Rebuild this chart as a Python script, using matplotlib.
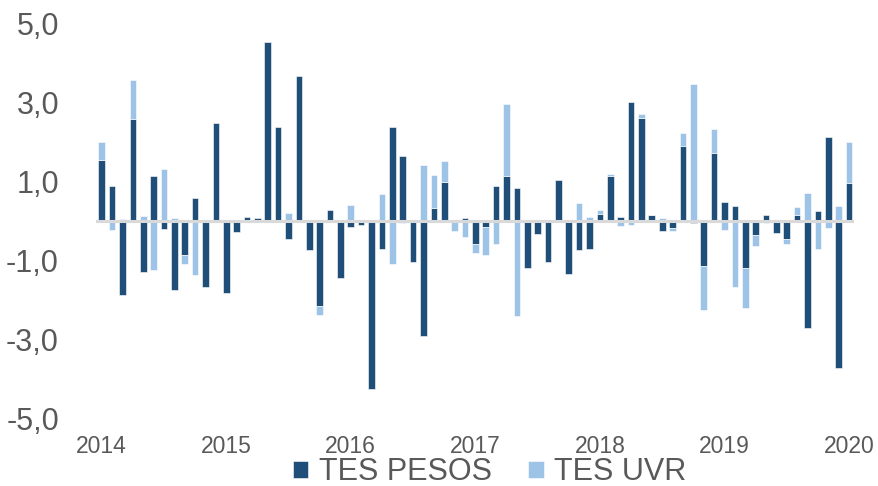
import numpy as np
import matplotlib
matplotlib.use("Agg")
import matplotlib.pyplot as plt

# monthly values, Jan 2014 - Jan 2020
pesos = [1.55, 0.89, -1.87, 2.59, -1.28, 1.14, -0.20, -1.74, -0.85, 0.57,
         -1.66, 2.47, -1.82, -0.29, 0.09, 0.07, 4.52, 2.37, -0.45, 3.66,
         -0.74, -2.14, 0.28, -1.44, -0.16, -0.11, -4.26, -0.71, 2.39, 1.65,
         -1.03, -2.91, 0.33, 0.98, 0.0, 0.08, -0.59, -0.14, 0.89, 1.15,
         0.84, -1.20, -0.32, -1.05, 1.04, -1.35, -0.74, -0.70, 0.17, 1.13,
         0.10, 3.02, 2.62, 0.14, -0.25, -0.17, 1.91, -0.06, -1.15, 1.73,
         0.48, 0.37, -1.20, -0.36, 0.15, -0.31, -0.45, 0.16, -2.72, 0.25,
         2.13, -3.73, 0.96]
uvr = [0.46, -0.23, 0.06, 0.97, 0.13, -1.25, 1.31, 0.08, -0.23, -1.37,
       0, 0, 0, 0, 0, 0, 0, 0, 0.20, 0,
       0, -0.23, 0, 0.02, 0.40, 0.03, 0, 0.68, -1.10, -0.04,
       0, 1.42, 0.84, 0.54, -0.25, -0.40, -0.22, -0.73, -0.59, 1.80,
       -2.41, 0, 0, 0, 0, 0, 0.46, 0.09, 0.10, 0.05,
       -0.13, -0.11, 0.09, 0.02, 0.08, -0.08, 0.33, 3.48, -1.10, 0.59,
       -0.23, -1.67, -1.01, -0.28, -0.06, 0, -0.12, 0.20, 0.72, -0.72,
       -0.17, 0.37, 1.05]
years = ["2014", "2015", "2016", "2017", "2018", "2019", "2020"]
yticks = [5, 3, 1, -1, -3, -5]

plt.rcParams['font.family'] = ['Liberation Sans', 'DejaVu Sans']
dark = "#1F4E79"
light = "#9DC3E6"
gray = "#595959"

pesos = np.array(pesos)
uvr = np.array(uvr)
x = np.arange(len(pesos))
# excel-style stacking: same sign stacks, opposite sign starts at zero
bottom_uvr = np.where(np.sign(uvr) == np.sign(pesos), pesos, 0)

fig = plt.figure(figsize=(8.79, 4.86), dpi=100)
ax = fig.add_axes([96.5 / 879, 1 - 418.5 / 486, 757.7 / 879, 395 / 486])

ax.bar(x, pesos, width=0.64, color=dark, edgecolor="white", linewidth=0.4, label="TES PESOS", zorder=2)
ax.bar(x, uvr, width=0.64, bottom=bottom_uvr, color=light, edgecolor="white", linewidth=0.4, label="TES UVR", zorder=2)
ax.axhline(0, color="#D9D9D9", linewidth=2.2, zorder=3)

ax.set_xlim(-0.5, len(pesos) - 0.5)
ax.set_ylim(-5, 5)
ax.set_yticks(yticks)
ax.set_yticklabels([("%.1f" % v).replace(".", ",") for v in yticks])
ax.set_xticks(np.arange(0, len(pesos), 12))
ax.set_xticklabels(years)
ax.tick_params(axis="y", length=0, pad=27, labelsize=22, labelcolor=gray)
ax.tick_params(axis="x", length=0, pad=12, labelsize=16.5, labelcolor=gray)
for s in ax.spines.values():
    s.set_visible(False)

fig.legend(loc="center", bbox_to_anchor=(0.557, 0.028), ncol=2, frameon=False,
           fontsize=22, labelcolor=gray, handlelength=0.5, handleheight=0.5,
           handletextpad=0.35, columnspacing=1.2, borderpad=0)

fig.savefig("out.png", dpi=100)
